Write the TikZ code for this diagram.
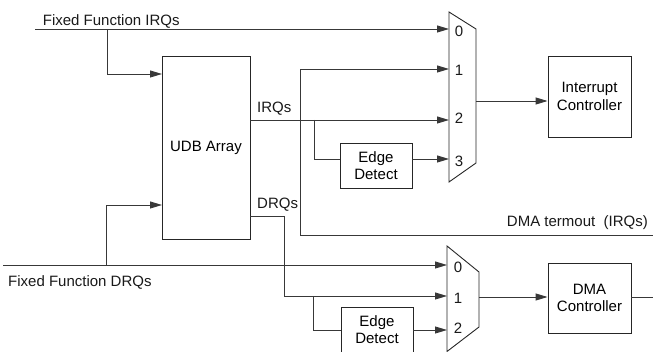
\documentclass[tikz,border=0pt]{standalone}
\usepackage{fontspec}
\setmainfont{Liberation Sans}
\usetikzlibrary{arrows.meta}
\begin{document}
\begin{tikzpicture}[x=1pt,y=-1pt,
  wire/.style={draw=black!78, line width=0.9pt},
  arr/.style={wire, -{Triangle[length=12pt,width=7pt]}},
  blk/.style={draw=black!85, line width=0.9pt, inner sep=0pt, align=center,
    font=\fontsize{15}{17.5}\selectfont},
  lbl/.style={font=\fontsize{15}{17.5}\selectfont, inner sep=0pt, text=black!90},
]
\useasboundingbox (0,0) rectangle (653,352);

% blocks
\node[blk, minimum width=88pt, minimum height=183pt] (udb) at (206,147.5) {UDB Array};
\node[blk, minimum width=72pt, minimum height=45pt] (e1) at (376,165.5) {Edge\\Detect};
\node[blk, minimum width=72pt, minimum height=45pt] (e2) at (377,329.5) {Edge\\Detect};
\node[blk, minimum width=83pt, minimum height=81pt] (ic) at (589.5,96.5) {Interrupt\\Controller};
\node[blk, minimum width=83pt, minimum height=70pt] (dma) at (589.5,298) {DMA\\Controller};

% multiplexers
\draw[wire, draw=black!85] (449,12) -- (476,29) -- (476,163) -- (449,182) -- cycle;
\draw[wire, draw=black!85] (447,246) -- (479,272) -- (479,327) -- (447,351.5) -- cycle;
\coordinate (m1in0) at (449,29);
\coordinate (m1in1) at (449,69);
\coordinate (m1in2) at (449,120);
\coordinate (m1in3) at (449,159);
\coordinate (m1out) at (476,101);
\coordinate (m2in0) at (447,265);
\coordinate (m2in1) at (447,296);
\coordinate (m2in2) at (447,330);
\coordinate (m2out) at (479,297);

\node[lbl, anchor=base] (m1l0) at (459,37) {0};
\node[lbl, anchor=base] (m1l1) at (459,76) {1};
\node[lbl, anchor=base] (m1l2) at (459,124) {2};
\node[lbl, anchor=base] (m1l3) at (459,167) {3};
\node[lbl, anchor=base] (m2l0) at (458,273) {0};
\node[lbl, anchor=base] (m2l1) at (458,304) {1};
\node[lbl, anchor=base] (m2l2) at (458,334) {2};

% labels
\node[lbl, anchor=base west] (tffi) at (42.7,26) {Fixed Function IRQs};
\node[lbl, anchor=base west] (tirq) at (257,113) {IRQs};
\node[lbl, anchor=base west] (tdrq) at (257,209) {DRQs};
\node[lbl, anchor=base west] (tffd) at (8,287) {Fixed Function DRQs};
\node[lbl, anchor=base east] (tdmt) at (648,227) {DMA termout\ \ (IRQs)};

% junction / end coordinates
\coordinate (ffi) at (35,29);
\coordinate (j1) at (107,29);
\coordinate (udbin1) at (162,74);
\coordinate (ffd) at (3,265);
\coordinate (j2) at (106,265);
\coordinate (udbin2) at (162,205);
\coordinate (irqo) at (250,120);
\coordinate (j3) at (314,120);
\coordinate (e1in) at (340,159);
\coordinate (e1out) at (412,159);
\coordinate (drqo) at (250,216);
\coordinate (drqk) at (284,216);
\coordinate (j4) at (313,296);
\coordinate (e2in) at (341,330);
\coordinate (e2out) at (413,330);
\coordinate (dmtR) at (653,235);
\coordinate (dmtC) at (300,235);
\coordinate (dmaR) at (653,297);

% wires
\draw[arr] (ffi) -- (m1in0);
\draw[arr] (j1) |- (udbin1);
\draw[arr] (dmtR) -- (dmtC) |- (m1in1);
\draw[arr] (irqo) -- (m1in2);
\draw[wire] (j3) |- (e1in);
\draw[arr] (e1out) -- (m1in3);
\draw[arr] (m1out) -- (m1out -| ic.west);

\draw[arr] (ffd) -- (m2in0);
\draw[arr] (j2) |- (udbin2);
\draw[arr] (drqo) -- (drqk) |- (m2in1);
\draw[wire] (j4) |- (e2in);
\draw[arr] (e2out) -- (m2in2);
\draw[arr] (m2out) -- (m2out -| dma.west);
\draw[wire] (m2out -| dma.east) -- (dmaR);
\end{tikzpicture}
\end{document}
